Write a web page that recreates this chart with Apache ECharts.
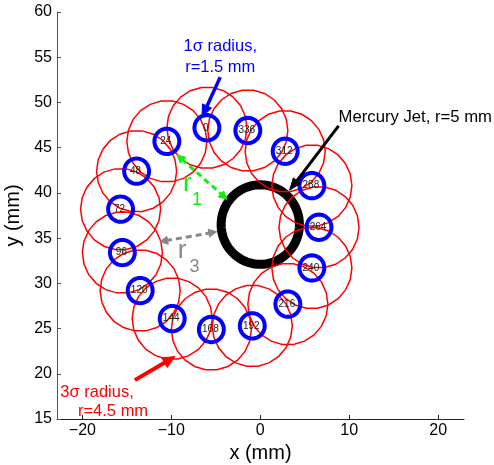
<!DOCTYPE html>
<html>
<head>
<meta charset="utf-8">
<script src="https://cdn.jsdelivr.net/npm/echarts@6/dist/echarts.min.js"></script>
<style>
  html, body { margin: 0; padding: 0; background: #fff; }
  #main { width: 494px; height: 465px; }
</style>
</head>
<body>
<div id="main"></div>
<script>
// beam positions (mm), labelled by angle
var beamAngles = [0, 24, 48, 72, 96, 120, 144, 168, 192, 216, 240, 264, 288, 312, 336];
var beamX = [-6.0, -10.5, -13.9, -15.7, -15.5, -13.5, -9.9, -5.5, -0.9, 3.1, 5.8, 6.6, 5.8, 2.8, -1.4];
var beamY = [47.2, 45.7, 42.4, 38.2, 33.4, 29.2, 26.1, 24.9, 25.3, 27.7, 31.7, 36.2, 40.8, 44.6, 46.9];
var sigma1Radius = 1.4;
var sigma3Radius = 4.5;
var jetCenter = [0, 36.5];
var jetRadius = 4.4;
var xTicks = [-20, -10, 0, 10, 20];

var FONT = '"Liberation Sans", Arial, Helvetica, sans-serif';
var beams = beamAngles.map(function (a, i) { return [beamX[i], beamY[i], a]; });

function ringSeries(data, radius, color, width, sides) {
  return {
    type: 'custom',
    data: data,
    silent: true,
    renderItem: function (params, api) {
      var c = api.coord([api.value(0), api.value(1)]);
      var rx = api.size([radius, 0])[0];
      var ry = api.size([0, radius])[1];
      var pts = [];
      for (var k = 0; k < sides; k++) {
        var t = 2 * Math.PI * k / sides;
        pts.push([c[0] + rx * Math.cos(t), c[1] + ry * Math.sin(t)]);
      }
      return {
        type: 'polygon',
        shape: { points: pts },
        style: { fill: 'none', stroke: color, lineWidth: width }
      };
    }
  };
}

function arrowSeries(from, to, color, width, dashed, twoHeads, headLen, headW) {
  return {
    type: 'custom',
    data: [[from[0], from[1], to[0], to[1]]],
    silent: true,
    renderItem: function (params, api) {
      var p1 = api.coord([api.value(0), api.value(1)]);
      var p2 = api.coord([api.value(2), api.value(3)]);
      var dx = p2[0] - p1[0], dy = p2[1] - p1[1];
      var len = Math.sqrt(dx * dx + dy * dy);
      var ux = dx / len, uy = dy / len;
      function head(tip, sx, sy) {
        var bx = tip[0] - sx * headLen, by = tip[1] - sy * headLen;
        return {
          type: 'polygon',
          shape: { points: [tip, [bx - sy * headW / 2, by + sx * headW / 2], [bx + sy * headW / 2, by - sx * headW / 2]] },
          style: { fill: color, stroke: color, lineWidth: 1 }
        };
      }
      var s = twoHeads ? [p1[0] + ux * headLen * 0.8, p1[1] + uy * headLen * 0.8] : p1;
      var e = [p2[0] - ux * headLen * 0.8, p2[1] - uy * headLen * 0.8];
      var children = [{
        type: 'line',
        shape: { x1: s[0], y1: s[1], x2: e[0], y2: e[1] },
        style: { stroke: color, lineWidth: width, lineDash: dashed ? [6, 4] : null }
      }, head(p2, ux, uy)];
      if (twoHeads) children.push(head(p1, -ux, -uy));
      return { type: 'group', children: children };
    }
  };
}

function textSeries(items) {
  return {
    type: 'custom',
    data: items.map(function (t) { return [t.x, t.y]; }),
    silent: true,
    renderItem: function (params, api) {
      var t = items[params.dataIndex];
      var c = api.coord([api.value(0), api.value(1)]);
      return {
        type: 'text',
        x: c[0], y: c[1],
        style: {
          text: t.text, fill: t.color, align: t.align || 'center', verticalAlign: 'middle',
          font: t.size + 'px ' + FONT
        }
      };
    }
  };
}

var chart = echarts.init(document.getElementById('main'));
chart.setOption({
  backgroundColor: '#fff',
  animation: false,
  grid: { left: 57, right: 30, top: 12, bottom: 46, containLabel: false, outerBoundsMode: 'none' },
  xAxis: {
    type: 'value', min: -22.85, max: 22.9,
    name: 'x (mm)', nameLocation: 'middle', nameGap: 18,
    nameTextStyle: { fontSize: 20, color: '#000', fontFamily: FONT },
    axisLine: { onZero: false, lineStyle: { color: '#222', width: 1 } },
    axisTick: { inside: true, length: 4, customValues: xTicks, lineStyle: { color: '#222' } },
    axisLabel: {
      customValues: xTicks, margin: 4, fontSize: 16, color: '#000', fontFamily: FONT,
      formatter: function (v) { return String(v).replace('-', '\u2212'); }
    },
    splitLine: { show: false }
  },
  yAxis: {
    type: 'value', min: 15, max: 60, interval: 5,
    name: 'y (mm)', nameLocation: 'middle', nameGap: 22,
    nameTextStyle: { fontSize: 20, color: '#000', fontFamily: FONT },
    axisLine: { onZero: false, lineStyle: { color: '#555', width: 1 } },
    axisTick: { inside: true, length: 4, lineStyle: { color: '#555' } },
    axisLabel: { margin: 5, fontSize: 16, color: '#000', fontFamily: FONT },
    splitLine: { show: false }
  },
  series: [
    // mercury jet
    ringSeries([jetCenter], jetRadius, '#000', 9, 72),
    // 3 sigma envelopes
    ringSeries(beams, sigma3Radius, '#ff0000', 1.5, 22),
    // 1 sigma beams
    ringSeries(beams, sigma1Radius, '#0000ff', 4, 48),
    // angle labels
    {
      type: 'custom',
      data: beams,
      silent: true,
      renderItem: function (params, api) {
        var c = api.coord([api.value(0), api.value(1)]);
        return {
          type: 'text', x: c[0] - 1, y: c[1],
          style: { text: String(api.value(2)), fill: '#222', align: 'center', verticalAlign: 'middle', font: '10px ' + FONT }
        };
      }
    },
    // annotations
    arrowSeries([-4.5, 52.8], [-6.55, 48.4], '#0000ff', 3.5, false, false, 12, 10),
    arrowSeries([8.8, 47.4], [3.3, 40.3], '#000', 3, false, false, 12, 9),
    arrowSeries([-14.1, 19.3], [-9.6, 21.9], '#ff0000', 4, false, false, 12, 11),
    arrowSeries([-9.35, 44.2], [-3.75, 39.3], '#11ee11', 3, true, true, 8, 8),
    arrowSeries([-11.3, 34.6], [-4.9, 35.7], '#888888', 3, true, true, 8, 8),
    textSeries([
      { text: '1\u03c3 radius,', x: -4.5, y: 56.2, color: '#0000ff', size: 16.5 },
      { text: 'r=1.5 mm', x: -4.5, y: 53.9, color: '#0000ff', size: 16.5 },
      { text: 'Mercury Jet, r=5 mm', x: 8.8, y: 48.4, color: '#000', size: 16.7, align: 'left' },
      { text: '3\u03c3 radius,', x: -18.35, y: 17.95, color: '#ff0000', size: 16.5 },
      { text: 'r=4.5 mm', x: -16.55, y: 15.85, color: '#ff0000', size: 16.5 },
      { text: 'r', x: -8.2, y: 41.0, color: '#11ee11', size: 26 },
      { text: '1', x: -7.1, y: 39.2, color: '#11ee11', size: 18 },
      { text: 'r', x: -8.8, y: 33.6, color: '#888888', size: 26 },
      { text: '3', x: -7.4, y: 31.8, color: '#888888', size: 18 }
    ])
  ]
});
</script>
</body>
</html>
